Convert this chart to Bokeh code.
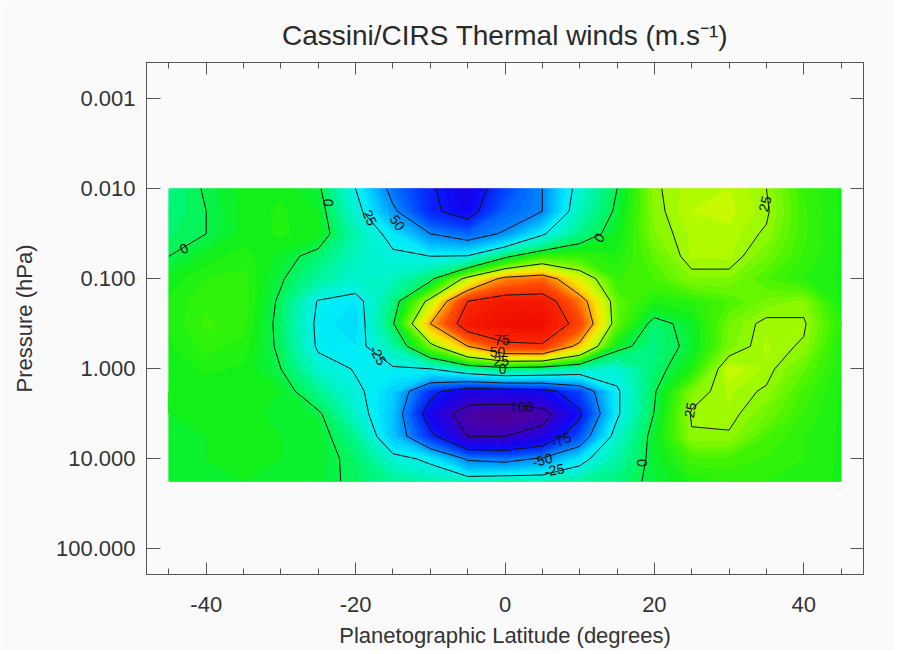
import numpy as np
from bokeh.plotting import figure
from bokeh.plotting.contour import contour_data
from bokeh.models import (Range1d, LinearAxis, LogAxis, FixedTicker, SingleIntervalTicker,
                          CustomJSTickFormatter, ColumnDataSource)
from bokeh.core.properties import value
from bokeh.embed import file_html
from bokeh.resources import INLINE

FONT = "Liberation Sans"

# ---------------- data ----------------
latitude = [-45, -40, -35, -30, -25, -20, -15, -10, -5, 0, 5, 10, 15, 20, 25, 30, 35, 40, 45]
pressure_hpa = [0.0100, 0.0178, 0.0316, 0.0562, 0.100, 0.178, 0.316, 0.562,
                1.000, 1.778, 3.162, 5.623, 10.00, 17.78]

# thermal wind (m/s), one row per pressure level, columns follow `latitude`
u_p0100 = [-6, 1, 6, 7, 2, -25, -55, -73, -86, -65, -50, -19, 0, 24, 29, 30, 25, 12, 7]
u_p0178 = [-5, 0, 6, 8, 5, -20, -47, -72, -82, -58, -50, -15, 2, 23, 30, 31, 26, 13, 7]
u_p0316 = [-3, 0, 6, 8, 6, -13, -30, -50, -58, -48, -27, -7, 5, 22, 28, 29, 24, 13, 7]
u_p0562 = [0, 6, 9, 4, -4, -15, -22, -25, -24, -3, 12, 12, 8, 18, 28, 28, 20, 12, 7]
u_p1000 = [6, 10, 11, 1, -10, -18, -15, -3, 30, 55, 60, 35, 12, 15, 22, 22, 15, 10, 7]
u_p1778 = [8, 12, 12, -2, -26, -30, -6, 30, 75, 85, 85, 58, 18, 8, 10, 15, 21, 23, 6]
u_p3162 = [8, 13, 11, -3, -28, -33, -1, 50, 85, 91, 92, 68, 18, -4, 4, 20, 27, 26, 10]
u_p5623 = [7, 11, 9, -2, -27, -30, -12, 20, 50, 70, 72, 45, 4, -6, 3, 21, 28, 24, 8]
u_1000 = [6, 8, 7, 0, -18, -26, -27, -25, -12, -5, -8, -15, -20, -4, 8, 32, 27, 18, 8]
u_1778 = [5, 6, 6, 5, -8, -22, -35, -70, -88, -85, -82, -65, -27, -1, 22, 28, 24, 14, 7]
u_3162 = [5, 6, 6, 4, 2, -18, -38, -85, -110, -115, -108, -78, -27, 0.5, 26, 27, 20, 12, 7]
u_5623 = [5, 5, 6, 5, 4, -8, -38, -70, -100, -100, -90, -62, -18, 4, 24, 24, 15, 10, 7]
u_10000 = [5, 5, 6, 5, 4, -3, -20, -28, -52, -55, -48, -30, -12, 3.5, 14, 14, 12, 10, 7]
u_17783 = [5, 5, 5, 5, 3, -2, -8, -12, -15, -12, -13, -10, -5, 2.5, 8, 10, 10, 9, 7]

# contour-label annotations: text, latitude, pressure, angle (deg)
clabel_text = ["0", "0", "25", "50", "0", "25", "-25", "75", "50", "25", "0",
               "-100", "-75", "-50", "-25", "0", "25"]
clabel_lat = [-43.0, -23.7, -18.1, -14.4, 12.6, 34.8, -17.0, -0.4, -1.0, -0.5, -0.3,
              1.9, 7.5, 5.0, 6.6, 18.3, 24.8]
clabel_p = [0.046, 0.0143, 0.0209, 0.0238, 0.0349, 0.0147, 0.706, 0.482, 0.655, 0.824, 1.01,
            2.66, 6.17, 10.3, 13.3, 11.1, 2.87]
clabel_angle = [27, 85, -65, -55, 55, 75, -60, 0, 0, 0, 0, 0, 20, 15, 10, 90, 80]

y_ticks = [0.001, 0.01, 0.1, 1.0, 10.0, 100.0]
line_levels = [-100, -75, -50, -25, 0, 25, 50, 75]

wind = np.array([u_p0100, u_p0178, u_p0316, u_p0562, u_p1000, u_p1778, u_p3162, u_p5623,
                 u_1000, u_1778, u_3162, u_5623, u_10000, u_17783], dtype=float)

# ---------------- colour table (IDL-like rainbow) ----------------
stops = [(-125, (80, 0, 125)), (-110, (75, 0, 160)), (-95, (45, 0, 210)), (-80, (15, 5, 245)),
         (-65, (0, 65, 255)), (-50, (0, 135, 255)), (-38, (0, 195, 255)), (-28, (0, 238, 250)),
         (-15, (0, 245, 190)), (-4, (0, 245, 115)), (6, (15, 240, 25)), (15, (70, 245, 0)),
         (25, (150, 250, 0)), (33, (210, 250, 0)), (42, (255, 225, 0)), (52, (255, 160, 0)),
         (64, (255, 80, 0)), (78, (250, 35, 0)), (100, (235, 0, 0))]


def colour_at(v):
    for (v0, c0), (v1, c1) in zip(stops[:-1], stops[1:]):
        if v <= v1:
            t = max(0.0, (v - v0) / (v1 - v0))
            return "#%02x%02x%02x" % tuple(int(round(a + (b - a) * t)) for a, b in zip(c0, c1))
    return "#%02x%02x%02x" % stops[-1][1]


fill_levels = list(np.arange(-125.0, 100.01, 2.5))

# ---------------- figure ----------------
BG = "#fafafa"
AX = "#555555"
TXT = "#333333"

p = figure(frame_width=717, frame_height=512,
           x_range=Range1d(-48, 48), y_range=Range1d(192.6, 3.96e-4),
           y_axis_type="log", output_backend="svg", toolbar_location=None,
           min_border_left=146, min_border_top=62, min_border_right=31, min_border_bottom=76,
           background_fill_color=BG, border_fill_color=BG,
           outline_line_color=AX, outline_line_width=1)
p.grid.visible = False

p.title.text = "Cassini/CIRS Thermal winds (m.s\u207b\u00b9)"
p.title.align = "center"
p.title.text_font = FONT
p.title.text_font_size = "28px"
p.title.text_font_style = "normal"
p.title.text_color = "#2a2a2a"
p.title.standoff = 0

# filled contours computed by Bokeh's own contouring, stroked in their own colour (no seams)
cd = contour_data(latitude, pressure_hpa, wind, fill_levels, want_fill=True, want_line=False)
fd = cd.fill_data
band_cols = [colour_at(0.5 * (lo + hi)) for lo, hi in zip(fd.lower_levels, fd.upper_levels)]
p.multi_polygons(xs=list(fd.xs), ys=list(fd.ys), fill_color=band_cols,
                 line_color=band_cols, line_width=1.0)

p.contour(x=latitude, y=pressure_hpa, z=wind, levels=line_levels,
          line_color="#111111", line_width=1.0)

src = ColumnDataSource(dict(x=clabel_lat, y=clabel_p, text=clabel_text,
                            angle=[np.deg2rad(a) for a in clabel_angle]))
p.text(x="x", y="y", text="text", angle="angle", source=src,
       text_font=value(FONT), text_font_size="14px", text_color="#111111",
       text_align="center", text_baseline="middle")

# axes
xa = p.xaxis[0]
xa.ticker = SingleIntervalTicker(interval=20, num_minor_ticks=4)
xa.formatter = CustomJSTickFormatter(code="return tick.toFixed(0);")
ya = p.yaxis[0]
ya.ticker = FixedTicker(ticks=y_ticks)
ya.formatter = CustomJSTickFormatter(code="return tick.toFixed(3);")

for ax in (xa, ya):
    ax.axis_line_color = AX
    ax.major_tick_line_color = AX
    ax.minor_tick_line_color = AX
    ax.major_tick_out = 0
    ax.minor_tick_out = 0
    ax.major_label_text_font = FONT
    ax.major_label_text_font_size = "22px"
    ax.major_label_text_color = TXT
    ax.axis_label_text_font = FONT
    ax.axis_label_text_font_size = "22px"
    ax.axis_label_text_font_style = "normal"
    ax.axis_label_text_color = TXT

xa.major_tick_in = 12
xa.minor_tick_in = 6
xa.major_label_standoff = 22
xa.axis_label = "Planetographic Latitude (degrees)"
xa.axis_label_standoff = 8

ya.major_tick_in = 14
ya.minor_tick_line_color = None
ya.major_label_standoff = 11
ya.axis_label = "Pressure (hPa)"
ya.axis_label_standoff = 16

top = LinearAxis(ticker=SingleIntervalTicker(interval=20, num_minor_ticks=4),
                 formatter=CustomJSTickFormatter(code="return ' ';"),
                 major_label_text_font_size="8px", major_tick_in=12, major_tick_out=0,
                 minor_tick_in=6, minor_tick_out=0, axis_line_color=AX,
                 major_tick_line_color=AX, minor_tick_line_color=AX, major_label_standoff=0)
p.add_layout(top, "above")
right = LogAxis(ticker=FixedTicker(ticks=y_ticks), formatter=CustomJSTickFormatter(code="return ' ';"),
                major_label_text_font_size="8px",
                major_tick_in=13, major_tick_out=0, minor_tick_line_color=None,
                axis_line_color=AX, major_tick_line_color=AX, major_label_standoff=0)
p.add_layout(right, "right")

open("out.html", "w").write(file_html(p, INLINE))
